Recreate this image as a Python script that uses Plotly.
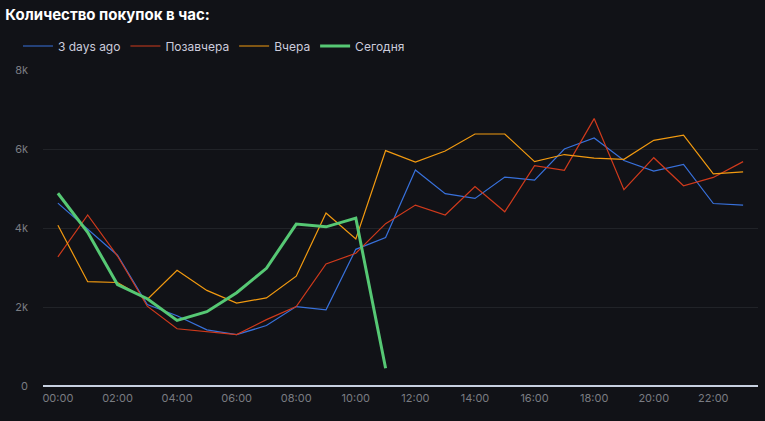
import plotly.graph_objects as go

hours = list(range(24))
tick_hours = list(range(0, 24, 2))
tick_labels = [f"{h:02d}:00" for h in tick_hours]

three_days_ago = [4630, 3970, 3310, 2060, 1780, 1420, 1300, 1530, 2010, 1930, 3460, 3760,
                  5470, 4870, 4750, 5290, 5210, 6000, 6280, 5710, 5440, 5610, 4620, 4580]
day_before = [3270, 4330, 3290, 2020, 1450, 1370, 1300, 1680, 2010, 3090, 3360, 4110,
              4580, 4330, 5050, 4410, 5580, 5460, 6770, 4970, 5780, 5070, 5280, 5680]
yesterday = [4070, 2640, 2620, 2190, 2930, 2420, 2100, 2230, 2780, 4380, 3720, 5960,
             5670, 5950, 6380, 6380, 5680, 5860, 5770, 5740, 6220, 6350, 5370, 5420]
today = [4880, 3890, 2570, 2210, 1660, 1880, 2360, 2980, 4100, 4030, 4250, 450]

series = [
    ("3 days ago", three_days_ago, "#3871dc", 1.2),
    ("Позавчера", day_before, "#d03a1c", 1.2),
    ("Вчера", yesterday, "#f29a10", 1.2),
    ("Сегодня", today, "#56c874", 3),
]

fig = go.Figure()
for name, vals, color, w in series:
    fig.add_trace(go.Scatter(
        x=hours[:len(vals)], y=vals, name=name, mode="lines",
        line=dict(color=color, width=w)
    ))

fig.update_layout(
    width=765, height=421,
    paper_bgcolor="#111217", plot_bgcolor="#111217",
    font=dict(family="Inter", color="#ccccdc", size=12),
    margin=dict(l=43, r=7, t=70, b=35),
    title=dict(text="<b>Количество покупок в час:</b>", x=0.007, xanchor="left",
               y=0.966, yanchor="middle", font=dict(size=15, color="#ffffff")),
    legend=dict(orientation="h", x=-0.035, xanchor="left", y=1.076, yanchor="middle",
                font=dict(size=12, color="#ccccdc"), bgcolor="rgba(0,0,0,0)",
                itemwidth=30, tracegroupgap=0),
    showlegend=True,
)
fig.update_xaxes(
    range=[-0.5, 23.5], tickvals=tick_hours, ticktext=tick_labels,
    showgrid=False, zeroline=False, showline=False,
    tickfont=dict(size=11, color="#7a7c82"), ticks="", ticklabelstandoff=4,
)
fig.update_yaxes(
    range=[0, 8000], tickvals=[0, 2000, 4000, 6000, 8000],
    ticktext=["0", "2k", "4k", "6k", "8k"],
    gridcolor="#212328", gridwidth=1, zeroline=True, zerolinecolor="#c7d0e0", zerolinewidth=1.5,
    tickfont=dict(size=11, color="#7a7c82"), ticks="", ticklabelstandoff=14,
)

# drop the page's default body margin so the figure sits at the window corner
fig.write_html("out.html", config={"displayModeBar": False},
               post_script="document.body.style.margin='0';")
